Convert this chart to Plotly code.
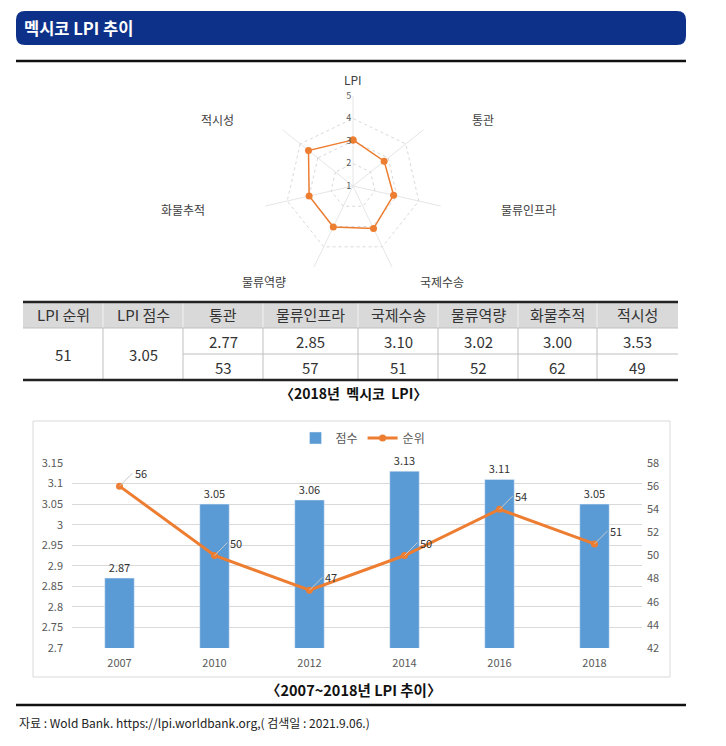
import math
import plotly.graph_objects as go

W, H = 726, 746

# 2018 멕시코 LPI 세부지표
indicators = ['통관', '물류인프라', '국제수송', '물류역량', '화물추적', '적시성']
indicator_scores = [2.77, 2.85, 3.10, 3.02, 3.00, 3.53]
indicator_ranks = [53, 57, 51, 52, 62, 49]
lpi_rank_2018 = 51
lpi_score_2018 = 3.05

# 2007~2018 LPI 추이
years = ['2007', '2010', '2012', '2014', '2016', '2018']
lpi_scores = [2.87, 3.05, 3.06, 3.13, 3.11, 3.05]
lpi_ranks = [56, 50, 47, 50, 54, 51]

KFONT = 'Noto Sans CJK KR'
BLUE = '#5b9bd5'
ORANGE = '#ed7d31'


def px(x):
    return x / W


def py(y):
    return 1 - y / H


shapes = []
annotations = []


def hline(x0, x1, y, color, width):
    shapes.append(dict(type='line', xref='paper', yref='paper', x0=px(x0), x1=px(x1),
                       y0=py(y), y1=py(y), line=dict(color=color, width=width)))


def vline(x, y0, y1, color, width):
    shapes.append(dict(type='line', xref='paper', yref='paper', x0=px(x), x1=px(x),
                       y0=py(y0), y1=py(y1), line=dict(color=color, width=width)))


def label(x, y, s, size=14, color='#333333', anchor='center'):
    annotations.append(dict(xref='paper', yref='paper', x=px(x), y=py(y), text=s, showarrow=False,
                            xanchor=anchor, yanchor='middle',
                            font=dict(family=KFONT, size=size, color=color)))


# header bar with rounded corners
x0, x1, y0, y1, r = 16, 686, 11, 45, 9
path = 'M {},{} L {},{} Q {},{} {},{} L {},{} Q {},{} {},{} L {},{} Q {},{} {},{} L {},{} Q {},{} {},{} Z'.format(
    px(x0 + r), py(y0), px(x1 - r), py(y0), px(x1), py(y0), px(x1), py(y0 + r),
    px(x1), py(y1 - r), px(x1), py(y1), px(x1 - r), py(y1),
    px(x0 + r), py(y1), px(x0), py(y1), px(x0), py(y1 - r),
    px(x0), py(y0 + r), px(x0), py(y0), px(x0 + r), py(y0))
shapes.append(dict(type='path', xref='paper', yref='paper', path=path,
                   fillcolor='#0d3189', line=dict(width=0)))
label(22, 28, '<b>멕시코 LPI 추이</b>', size=16.5, color='white', anchor='left')
hline(16, 686, 61, '#111111', 2.5)

# radar category labels
cx, cy = 353, 186
radar_cats = ['LPI'] + indicators
for i, cat in enumerate(radar_cats):
    ang = math.radians(90 - i * 360 / len(radar_cats))
    c, s = math.cos(ang), math.sin(ang)
    anchor = 'left' if c > 0.1 else ('right' if c < -0.1 else 'center')
    label(cx + 150 * c, cy - 106 * s, cat, size=12, color='#404040', anchor=anchor)

# table
cols = [23, 103, 183, 263, 358, 438, 518, 597, 678]
t_top, t_head, t_mid, t_bot = 302, 328, 354, 380
shapes.append(dict(type='rect', xref='paper', yref='paper', x0=px(cols[0]), x1=px(cols[-1]),
                   y0=py(t_top), y1=py(t_head), fillcolor='#d9d9d9', line=dict(width=0)))
for cxx in cols[1:-1]:
    vline(cxx, t_top, t_head, '#f2f2f2', 1)
    vline(cxx, t_head, t_bot, '#bfbfbf', 1)
hline(cols[0], cols[-1], t_head, '#bfbfbf', 1)
hline(cols[2], cols[-1], t_mid, '#bfbfbf', 1)
hline(cols[0], cols[-1], t_top, '#222222', 2.5)
hline(cols[0], cols[-1], t_bot, '#222222', 2.5)

headers = ['LPI 순위', 'LPI 점수'] + indicators
for i, h in enumerate(headers):
    label((cols[i] + cols[i + 1]) / 2, (t_top + t_head) / 2, h, size=15)
label((cols[0] + cols[1]) / 2, (t_head + t_bot) / 2, str(lpi_rank_2018), size=15)
label((cols[1] + cols[2]) / 2, (t_head + t_bot) / 2, '{:.2f}'.format(lpi_score_2018), size=15)
for i in range(len(indicators)):
    xm = (cols[i + 2] + cols[i + 3]) / 2
    label(xm, (t_head + t_mid) / 2, '{:.2f}'.format(indicator_scores[i]), size=15)
    label(xm, (t_mid + t_bot) / 2, str(indicator_ranks[i]), size=15)
label(353, 393, '<b>〈2018년  멕시코  LPI〉</b>', size=14, color='#111111')

# lower chart frame, caption, footer
shapes.append(dict(type='rect', xref='paper', yref='paper', x0=px(33), x1=px(670),
                   y0=py(421), y1=py(677), line=dict(color='#d9d9d9', width=1)))
label(353, 689, '<b>〈2007~2018년 LPI 추이〉</b>', size=14.5, color='#111111')
hline(16, 686, 705, '#111111', 2.5)
label(17, 722, '자료 : Wold Bank. https://lpi.worldbank.org,( 검색일 : 2021.9.06.)', size=12,
      color='#222222', anchor='left')

fig = go.Figure()

fig.add_trace(go.Scatterpolar(
    r=[lpi_score_2018] + indicator_scores + [lpi_score_2018],
    theta=radar_cats + [radar_cats[0]],
    mode='lines+markers',
    line=dict(color=ORANGE, width=1.5),
    marker=dict(color=ORANGE, size=7),
    showlegend=False,
))

fig.add_trace(go.Bar(
    x=years, y=lpi_scores, name='점수', marker_color=BLUE, width=0.31,
    xaxis='x', yaxis='y',
    text=['{:.2f}'.format(v) for v in lpi_scores], textposition='outside', cliponaxis=False,
    textfont=dict(size=11, color='#333333', family=KFONT),
))
fig.add_trace(go.Scatter(
    x=years, y=lpi_ranks, name='순위', xaxis='x', yaxis='y2', mode='lines+markers',
    line=dict(color=ORANGE, width=3), marker=dict(color=ORANGE, size=7),
))

for i, rk in enumerate(lpi_ranks):
    annotations.append(dict(x=i, y=rk, xref='x', yref='y2', text=str(rk), showarrow=True,
                            arrowhead=0, arrowwidth=1, arrowcolor='#c8c8c8', ax=13, ay=-13,
                            xanchor='left', font=dict(size=11, color='#333333', family=KFONT)))

R = 90
fig.update_layout(
    width=W, height=H,
    margin=dict(l=0, r=0, t=0, b=0, autoexpand=False),
    paper_bgcolor='white', plot_bgcolor='white',
    font=dict(family=KFONT, color='#595959'),
    polar=dict(
        domain=dict(x=[px(cx - R), px(cx + R)], y=[py(cy + R), py(cy - R)]),
        bgcolor='white',
        gridshape='linear',
        radialaxis=dict(range=[1, 5], dtick=1, angle=90, tickangle=90, side='counterclockwise',
                        showline=False, ticks='', gridcolor='#d9d9d9', griddash='dot',
                        tickfont=dict(size=9, color='#595959')),
        angularaxis=dict(rotation=90, direction='clockwise', showticklabels=False, ticks='',
                         showline=False, gridcolor='#e6e6e6'),
    ),
    xaxis=dict(type='category', categoryorder='array', categoryarray=years, range=[-0.5, 5.5],
               domain=[px(72), px(642)], showgrid=False, showline=False,
               ticks='', tickfont=dict(size=11, color='#595959'), ticklabelstandoff=7),
    yaxis=dict(domain=[py(648), py(463)], range=[2.7, 3.15], dtick=0.05, gridcolor='#d9d9d9',
               zeroline=False, tickfont=dict(size=11, color='#595959'), ticklabelstandoff=8),
    yaxis2=dict(overlaying='y', side='right', range=[42, 58], dtick=2, showgrid=False,
                zeroline=False, tickfont=dict(size=11, color='#595959'), ticklabelstandoff=4),
    legend=dict(orientation='h', x=0.5, xanchor='center', y=py(438), yanchor='middle',
                font=dict(size=12, color='#595959')),
    shapes=shapes,
    annotations=annotations,
)

fig.write_html('out.html', config={'displayModeBar': False},
               post_script="document.body.style.margin='0px';")
